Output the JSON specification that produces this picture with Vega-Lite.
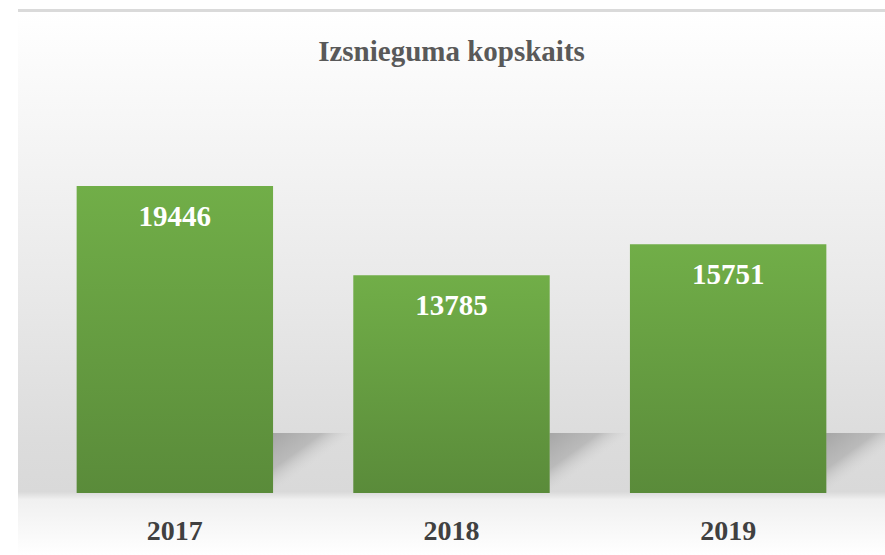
{
  "$schema": "https://vega.github.io/schema/vega-lite/v6.json",
  "autosize": {"type": "none"},
  "width": 867,
  "height": 555,
  "padding": {"left": 18, "top": 0, "right": 0, "bottom": 0},
  "background": "#ffffff",
  "title": {
    "text": "Izsnieguma kopskaits",
    "font": "Liberation Serif",
    "fontSize": 29,
    "fontWeight": "bold",
    "color": "#595959",
    "anchor": "middle",
    "baseline": "alphabetic",
    "offset": -90
  },
  "config": {
    "view": {
      "stroke": null,
      "fill": {
        "gradient": "linear",
        "x1": 0, "y1": 0, "x2": 0, "y2": 1,
        "stops": [
          {"offset": 0, "color": "#ffffff"},
          {"offset": 0.016, "color": "#ffffff"},
          {"offset": 0.017, "color": "#dadada"},
          {"offset": 0.021, "color": "#dadada"},
          {"offset": 0.022, "color": "#ffffff"},
          {"offset": 0.27, "color": "#f4f4f4"},
          {"offset": 0.54, "color": "#e8e8e8"},
          {"offset": 0.79, "color": "#dcdcdc"},
          {"offset": 0.886, "color": "#d9d9d9"},
          {"offset": 0.9, "color": "#f0f0f0"},
          {"offset": 1, "color": "#ffffff"}
        ]
      }
    }
  },
  "data": {
    "values": [
      {"year": "2017", "value": 19446},
      {"year": "2018", "value": 13785},
      {"year": "2019", "value": 15751}
    ]
  },
  "encoding": {
    "x": {
      "field": "year",
      "type": "nominal",
      "scale": {"paddingInner": 0.29, "paddingOuter": 0.212},
      "axis": {
        "title": null,
        "orient": "bottom",
        "offset": -40,
        "domain": false,
        "ticks": false,
        "labelAngle": 0,
        "labelFont": "Liberation Serif",
        "labelFontSize": 28,
        "labelFontWeight": "bold",
        "labelColor": "#404040",
        "labelBaseline": "top",
        "labelPadding": 2
      }
    }
  },
  "layer": [
    {
      "mark": {
        "type": "bar",
        "width": 82,
        "xOffset": 139,
        "color": {
          "gradient": "linear",
          "x1": 0, "y1": 0, "x2": 1, "y2": 1,
          "stops": [
            {"offset": 0, "color": "rgba(160,160,160,0.9)"},
            {"offset": 0.3, "color": "rgba(175,175,175,0.75)"},
            {"offset": 0.5, "color": "rgba(210,210,210,0.0)"},
            {"offset": 1, "color": "rgba(240,240,240,0)"}
          ]
        }
      },
      "encoding": {
        "y": {"datum": 3800, "type": "quantitative", "scale": {"domain": [-3926, 31221], "zero": false, "nice": false}, "axis": null},
        "y2": {"datum": 0}
      }
    },
    {
      "mark": {
        "type": "bar",
        "color": {
          "gradient": "linear",
          "x1": 0, "y1": 0, "x2": 0, "y2": 1,
          "stops": [
            {"offset": 0, "color": "#71ae48"},
            {"offset": 1, "color": "#5a8b3a"}
          ]
        }
      },
      "encoding": {
        "y": {"field": "value", "type": "quantitative", "scale": {"domain": [-3926, 31221], "zero": false, "nice": false}, "axis": null},
        "y2": {"datum": 0}
      }
    },
    {
      "mark": {
        "type": "text",
        "font": "Liberation Serif",
        "fontSize": 29,
        "fontWeight": "bold",
        "color": "#ffffff",
        "baseline": "alphabetic",
        "dy": 40
      },
      "encoding": {
        "y": {"field": "value", "type": "quantitative", "scale": {"domain": [-3926, 31221], "zero": false, "nice": false}, "axis": null},
        "text": {"field": "value", "type": "quantitative", "format": "d"}
      }
    }
  ]
}
